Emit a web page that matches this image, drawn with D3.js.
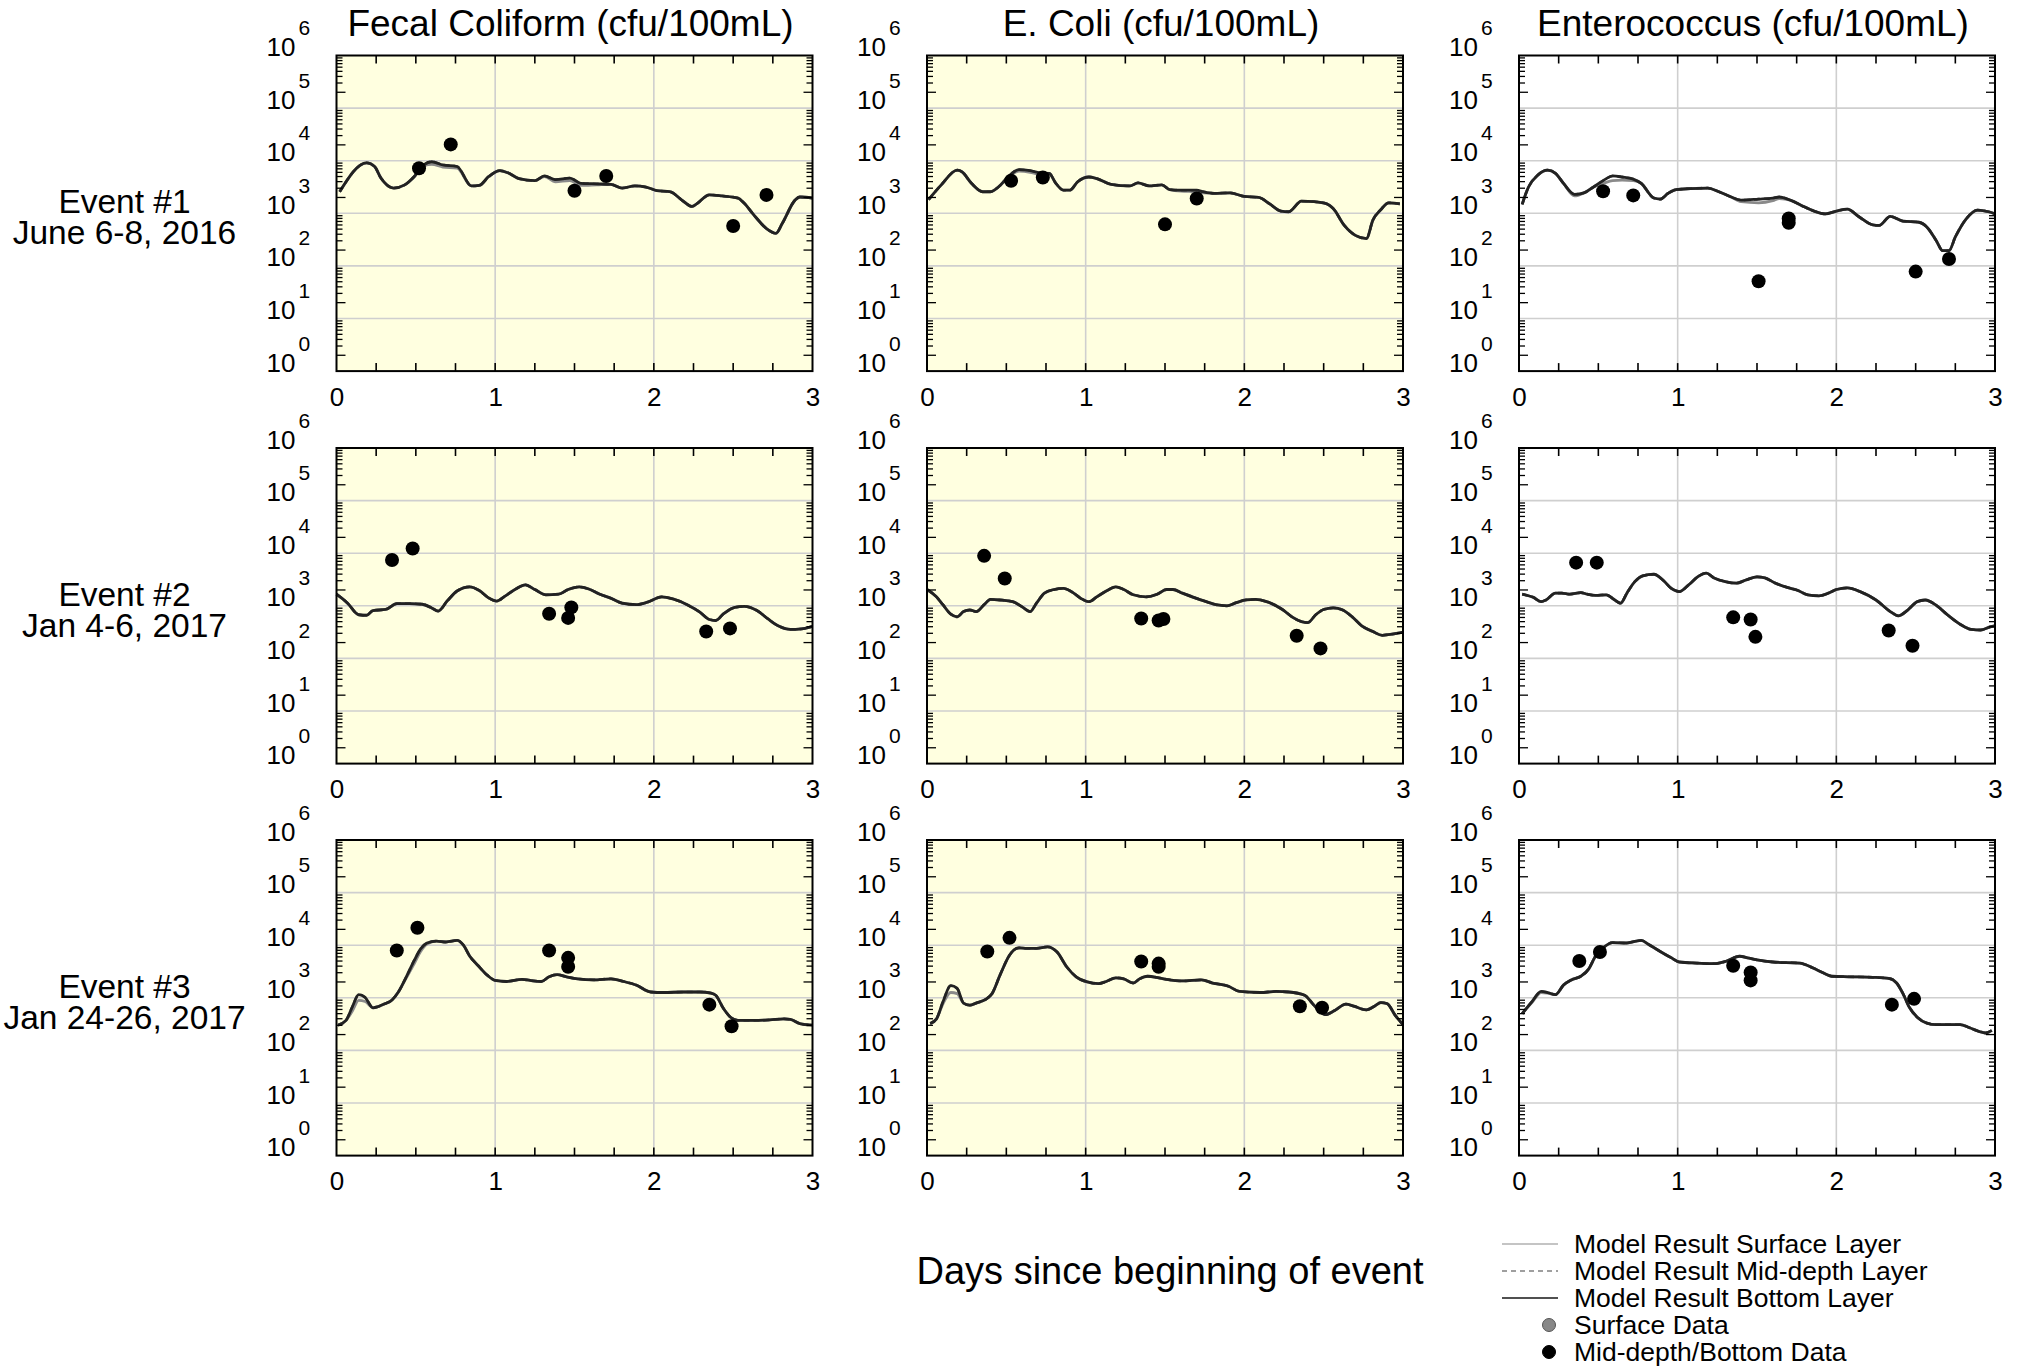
<!DOCTYPE html>
<html><head><meta charset="utf-8">
<script src="https://cdn.jsdelivr.net/npm/d3@7"></script>
<style>
html,body{margin:0;padding:0;background:#fff;}
svg{display:block;}
text{font-family:"Liberation Sans",Arial,Helvetica,sans-serif;fill:#000;}
</style>
</head><body>
<svg id="chart" width="2024" height="1368"></svg>
<script>
// ---------- labels ----------
const columnTitles = ["Fecal Coliform (cfu/100mL)", "E. Coli (cfu/100mL)", "Enterococcus (cfu/100mL)"];
const eventLabels = [["Event #1", "June 6-8, 2016"], ["Event #2", "Jan 4-6, 2017"], ["Event #3", "Jan 24-26, 2017"]];
const xTickLabels = [0, 1, 2, 3];
const xMinorTicks = [0.25, 0.5, 0.75, 1, 1.25, 1.5, 1.75, 2, 2.25, 2.5, 2.75];
const xGrid = [1, 2];
const yTickExponents = [0, 1, 2, 3, 4, 5, 6];
const yGrid = [10, 100, 1000, 10000, 100000];
const xAxisTitle = "Days since beginning of event";
const legendLabels = ["Model Result Surface Layer", "Model Result Mid-depth Layer", "Model Result Bottom Layer", "Surface Data", "Mid-depth/Bottom Data"];

// ---------- Event 1 ----------
const fecalE1Bottom = [[0.02,2570],[0.19,9120],[0.24,7760],[0.28,4680],[0.36,3020],[0.43,3470],[0.49,5010],[0.55,8320],[0.60,9550],[0.67,8320],[0.76,7760],[0.85,3310],[0.90,3390],[0.96,5010],[1.03,6460],[1.08,5890],[1.15,4570],[1.25,4170],[1.31,5130],[1.38,4370],[1.47,4680],[1.54,3720],[1.64,3630],[1.73,3550],[1.80,3020],[1.88,3310],[1.95,3160],[2.02,2690],[2.10,2570],[2.19,1660],[2.24,1350],[2.27,1510],[2.35,2240],[2.43,2140],[2.53,1950],[2.57,1550],[2.63,933],[2.71,513],[2.77,417],[2.81,646],[2.89,1780],[2.92,2040],[3.00,1950]];
const fecalE1Surface = [[0.02,2570],[0.19,9120],[0.24,7760],[0.28,4680],[0.36,3020],[0.43,3470],[0.49,4900],[0.55,7940],[0.60,8510],[0.67,7590],[0.76,7240],[0.85,3310],[0.90,3390],[0.96,5010],[1.03,6460],[1.08,5890],[1.15,4570],[1.25,4170],[1.31,5010],[1.38,3980],[1.47,4170],[1.54,3390],[1.64,3470],[1.73,3550],[1.80,3020],[1.88,3310],[1.95,3160],[2.02,2690],[2.10,2570],[2.19,1660],[2.24,1350],[2.27,1510],[2.35,2240],[2.43,2140],[2.53,1950],[2.57,1550],[2.63,933],[2.71,513],[2.77,417],[2.81,646],[2.89,1780],[2.92,2040],[3.00,1950]];
const fecalE1Data = [[0.52,7200],[0.72,20400],[1.50,2690],[1.70,5130],[2.50,575],[2.71,2240]];

const ecoliE1Bottom = [[0.01,1820],[0.09,3470],[0.19,6610],[0.22,6170],[0.28,3720],[0.35,2570],[0.40,2570],[0.45,3160],[0.51,4900],[0.58,6760],[0.65,6460],[0.71,5890],[0.77,5750],[0.81,3800],[0.86,2750],[0.90,2750],[0.95,3980],[1.02,4900],[1.07,4570],[1.16,3550],[1.28,3310],[1.33,3800],[1.40,3310],[1.48,3470],[1.53,2820],[1.60,2750],[1.70,2750],[1.74,2570],[1.81,2400],[1.91,2450],[2.00,2090],[2.09,2000],[2.16,1510],[2.23,1100],[2.28,1070],[2.36,1700],[2.44,1660],[2.52,1510],[2.56,1230],[2.63,589],[2.70,380],[2.77,331],[2.81,741],[2.86,1170],[2.91,1580],[2.98,1510]];
const ecoliE1Surface = [[0.01,1820],[0.09,3470],[0.19,6610],[0.22,6170],[0.28,3720],[0.35,2570],[0.40,2570],[0.45,3160],[0.51,4790],[0.58,6310],[0.65,6030],[0.71,5500],[0.77,5750],[0.81,3800],[0.86,2750],[0.90,2750],[0.95,3980],[1.02,4900],[1.07,4570],[1.16,3550],[1.28,3310],[1.33,3800],[1.40,3310],[1.48,3470],[1.53,2820],[1.60,2630],[1.70,2570],[1.74,2450],[1.81,2400],[1.91,2450],[2.00,2090],[2.09,2000],[2.16,1510],[2.23,1100],[2.28,1070],[2.36,1700],[2.44,1660],[2.52,1510],[2.56,1230],[2.63,589],[2.70,380],[2.77,331],[2.81,741],[2.86,1170],[2.91,1580],[2.98,1510]];
const ecoliE1Data = [[0.53,4170],[0.73,4790],[1.50,617],[1.70,1910]];

const enteroE1Bottom = [[0.02,1480],[0.06,3160],[0.12,5370],[0.18,6610],[0.23,5750],[0.28,3720],[0.35,2290],[0.41,2450],[0.47,3160],[0.54,4370],[0.59,5130],[0.65,4900],[0.72,4470],[0.77,3720],[0.85,1950],[0.89,1860],[0.94,2400],[0.99,2820],[1.08,2950],[1.19,3020],[1.26,2570],[1.33,2090],[1.40,1780],[1.51,1860],[1.60,1950],[1.64,2040],[1.71,1780],[1.78,1410],[1.86,1100],[1.93,977],[2.00,1100],[2.07,1200],[2.14,871],[2.23,603],[2.27,589],[2.34,871],[2.42,708],[2.52,676],[2.57,550],[2.63,302],[2.67,195],[2.71,195],[2.75,355],[2.82,794],[2.89,1150],[2.96,1070],[3.00,977]];
const enteroE1Surface = [[0.02,1480],[0.06,3160],[0.12,5370],[0.18,6610],[0.23,5750],[0.28,3720],[0.35,2140],[0.41,2450],[0.47,3160],[0.54,3800],[0.59,4170],[0.65,4270],[0.72,4170],[0.77,3720],[0.85,1950],[0.89,1860],[0.94,2400],[0.99,2820],[1.08,2950],[1.19,3020],[1.26,2570],[1.33,2090],[1.40,1660],[1.51,1580],[1.60,1740],[1.64,1910],[1.71,1780],[1.78,1410],[1.86,1100],[1.93,977],[2.00,1100],[2.07,1200],[2.14,871],[2.23,603],[2.27,589],[2.34,871],[2.42,708],[2.52,676],[2.57,550],[2.63,302],[2.67,195],[2.71,195],[2.75,355],[2.82,794],[2.89,1150],[2.96,1070],[3.00,977]];
const enteroE1Data = [[0.53,2630],[0.72,2190],[1.51,51],[1.70,794],[1.70,661],[2.50,78],[2.71,135]];

// ---------- Event 2 ----------
const fecalE2Model = [[0.00,1660],[0.07,1120],[0.14,676],[0.19,661],[0.23,813],[0.31,851],[0.38,1100],[0.46,1100],[0.54,1070],[0.60,912],[0.64,794],[0.70,1260],[0.76,1910],[0.84,2290],[0.90,1950],[0.96,1410],[1.01,1230],[1.06,1510],[1.13,2090],[1.19,2510],[1.25,2040],[1.32,1620],[1.40,1660],[1.46,2040],[1.53,2290],[1.59,2090],[1.66,1660],[1.74,1350],[1.80,1120],[1.89,1050],[1.96,1170],[2.05,1480],[2.12,1350],[2.21,1050],[2.29,759],[2.35,550],[2.39,525],[2.44,708],[2.51,933],[2.57,977],[2.65,813],[2.72,562],[2.79,407],[2.86,355],[2.93,363],[3.00,407]];
const fecalE2Data = [[0.35,7410],[0.48,12300],[1.34,708],[1.46,589],[1.48,933],[2.33,324],[2.48,372]];

const ecoliE2Model = [[0.00,2040],[0.06,1480],[0.10,1050],[0.15,692],[0.19,617],[0.23,776],[0.27,832],[0.31,776],[0.36,1050],[0.40,1320],[0.46,1290],[0.54,1200],[0.60,955],[0.65,776],[0.69,1120],[0.74,1740],[0.80,2040],[0.86,2140],[0.92,1780],[0.97,1380],[1.02,1200],[1.07,1480],[1.13,1910],[1.19,2290],[1.24,2040],[1.30,1620],[1.38,1480],[1.45,1660],[1.51,2040],[1.55,2040],[1.61,1740],[1.68,1450],[1.76,1200],[1.82,1050],[1.89,1000],[1.95,1150],[2.01,1290],[2.07,1320],[2.14,1200],[2.24,851],[2.30,617],[2.36,501],[2.40,479],[2.45,676],[2.50,851],[2.56,912],[2.62,832],[2.68,617],[2.74,417],[2.81,324],[2.87,275],[2.93,288],[3.00,316]];
const ecoliE2Data = [[0.36,8910],[0.49,3310],[1.35,575],[1.46,525],[1.49,562],[2.33,269],[2.48,155]];

const enteroE2Model = [[0.02,1660],[0.09,1450],[0.14,1200],[0.17,1290],[0.23,1740],[0.27,1740],[0.32,1660],[0.39,1780],[0.43,1660],[0.48,1580],[0.55,1620],[0.59,1380],[0.64,1120],[0.68,1740],[0.73,2880],[0.78,3720],[0.85,3980],[0.91,3020],[0.96,2140],[1.01,1860],[1.07,2510],[1.13,3630],[1.18,4170],[1.23,3390],[1.30,2880],[1.37,2690],[1.43,3090],[1.50,3550],[1.55,3390],[1.61,2750],[1.69,2240],[1.75,2000],[1.82,1620],[1.89,1550],[1.95,1740],[2.00,2040],[2.07,2190],[2.15,1860],[2.25,1290],[2.34,776],[2.39,646],[2.45,832],[2.51,1200],[2.56,1290],[2.63,1020],[2.70,676],[2.78,447],[2.85,355],[2.91,347],[2.97,398],[3.00,417]];
const enteroE2Data = [[0.36,6610],[0.49,6610],[1.35,603],[1.46,550],[1.49,257],[2.33,339],[2.48,174]];

// ---------- Event 3 ----------
const fecalE3Bottom = [[0.01,302],[0.06,372],[0.10,676],[0.14,1150],[0.18,1020],[0.23,646],[0.26,676],[0.30,759],[0.35,912],[0.39,1290],[0.44,2510],[0.49,5130],[0.53,8510],[0.57,11000],[0.63,12000],[0.69,11500],[0.76,12300],[0.80,10000],[0.84,6170],[0.89,4170],[0.95,2690],[1.00,2140],[1.07,2040],[1.17,2240],[1.22,2140],[1.29,2040],[1.34,2510],[1.39,2750],[1.45,2510],[1.52,2290],[1.62,2190],[1.73,2290],[1.81,2040],[1.89,1740],[1.98,1290],[2.06,1260],[2.19,1290],[2.29,1290],[2.36,1230],[2.39,1120],[2.44,617],[2.48,437],[2.53,372],[2.63,372],[2.73,380],[2.82,398],[2.86,389],[2.92,324],[3.00,302]];
const fecalE3Surface = [[0.01,302],[0.06,372],[0.10,562],[0.14,891],[0.18,851],[0.23,646],[0.26,676],[0.30,759],[0.35,912],[0.39,1290],[0.44,2400],[0.49,4470],[0.53,7590],[0.57,10500],[0.63,12000],[0.69,11500],[0.76,12300],[0.80,10000],[0.84,6170],[0.89,4170],[0.95,2690],[1.00,2140],[1.07,2040],[1.17,2240],[1.22,2140],[1.29,2040],[1.34,2510],[1.39,2750],[1.45,2510],[1.52,2290],[1.62,2190],[1.73,2290],[1.81,2040],[1.89,1740],[1.98,1290],[2.06,1260],[2.19,1290],[2.29,1290],[2.36,1230],[2.39,1120],[2.44,617],[2.48,437],[2.53,372],[2.63,372],[2.73,380],[2.82,398],[2.86,389],[2.92,324],[3.00,302]];
const fecalE3Data = [[0.38,7940],[0.51,21400],[1.34,7940],[1.46,5750],[1.46,3890],[2.35,741],[2.49,288]];

const ecoliE3Bottom = [[0.02,324],[0.06,398],[0.10,832],[0.15,1700],[0.19,1510],[0.23,794],[0.27,724],[0.31,794],[0.37,933],[0.41,1200],[0.46,2690],[0.52,6460],[0.58,8910],[0.63,8710],[0.69,8710],[0.76,9330],[0.82,7410],[0.88,3890],[0.94,2510],[1.01,2000],[1.08,1860],[1.13,2040],[1.19,2400],[1.24,2290],[1.30,1910],[1.34,2290],[1.39,2570],[1.46,2400],[1.51,2240],[1.61,2090],[1.73,2190],[1.80,1910],[1.90,1660],[1.97,1320],[2.10,1260],[2.20,1320],[2.28,1290],[2.38,1120],[2.43,776],[2.48,537],[2.51,479],[2.57,575],[2.64,759],[2.69,692],[2.77,589],[2.82,692],[2.86,813],[2.90,776],[2.95,468],[3.00,309]];
const ecoliE3Surface = [[0.02,324],[0.06,398],[0.10,760],[0.15,1260],[0.19,1200],[0.23,794],[0.27,724],[0.31,794],[0.37,933],[0.41,1200],[0.46,2690],[0.52,6460],[0.58,8910],[0.63,8710],[0.69,8710],[0.76,9330],[0.82,7410],[0.88,3890],[0.94,2510],[1.01,2000],[1.08,1860],[1.13,2040],[1.19,2400],[1.24,2290],[1.30,1910],[1.34,2290],[1.39,2570],[1.46,2400],[1.51,2240],[1.61,2090],[1.73,2190],[1.80,1910],[1.90,1660],[1.97,1320],[2.10,1260],[2.20,1320],[2.28,1290],[2.38,1120],[2.43,776],[2.48,537],[2.51,479],[2.57,575],[2.64,759],[2.69,692],[2.77,589],[2.82,692],[2.86,813],[2.90,776],[2.95,468],[3.00,309]];
const ecoliE3Data = [[0.38,7590],[0.52,13800],[1.35,4900],[1.46,4470],[1.46,3890],[2.35,692],[2.49,646]];

const enteroE3Bottom = [[0.02,501],[0.08,832],[0.14,1320],[0.18,1260],[0.23,1150],[0.28,1740],[0.33,2190],[0.39,2570],[0.44,3550],[0.48,6030],[0.53,8910],[0.59,11200],[0.68,11000],[0.74,12000],[0.77,12300],[0.82,10200],[0.89,7590],[0.96,5750],[1.01,4790],[1.12,4570],[1.24,4470],[1.31,5010],[1.39,6170],[1.44,5750],[1.50,5250],[1.60,4790],[1.77,4570],[1.85,3720],[1.92,2950],[1.97,2570],[2.08,2510],[2.23,2450],[2.33,2340],[2.38,1910],[2.42,1200],[2.46,661],[2.51,427],[2.57,331],[2.63,309],[2.70,309],[2.78,309],[2.84,269],[2.90,229],[2.94,214],[2.98,240]];
const enteroE3Surface = [[0.02,501],[0.08,800],[0.14,1260],[0.18,1230],[0.23,1150],[0.28,1740],[0.33,2190],[0.39,2570],[0.44,3550],[0.48,6030],[0.53,8910],[0.59,11200],[0.68,11000],[0.74,12000],[0.77,12300],[0.82,10200],[0.89,7590],[0.96,5750],[1.01,4790],[1.12,4570],[1.24,4470],[1.31,5010],[1.39,6170],[1.44,5750],[1.50,5250],[1.60,4790],[1.77,4570],[1.85,3720],[1.92,2950],[1.97,2570],[2.08,2510],[2.23,2450],[2.33,2340],[2.38,1910],[2.42,1200],[2.46,661],[2.51,427],[2.57,331],[2.63,309],[2.70,309],[2.78,309],[2.84,269],[2.90,229],[2.94,214],[2.98,240]];
const enteroE3Data = [[0.38,5010],[0.51,7410],[1.35,4070],[1.46,3020],[1.46,2140],[2.35,741],[2.49,955]];

// ---------- panel table built from the arrays ----------
const panels = [
  {row:0,col:0,surface:fecalE1Surface, mid:fecalE1Bottom, bottom:fecalE1Bottom, data:fecalE1Data},
  {row:0,col:1,surface:ecoliE1Surface, mid:ecoliE1Bottom, bottom:ecoliE1Bottom, data:ecoliE1Data},
  {row:0,col:2,surface:enteroE1Surface,mid:enteroE1Bottom,bottom:enteroE1Bottom,data:enteroE1Data},
  {row:1,col:0,surface:fecalE2Model, mid:fecalE2Model, bottom:fecalE2Model, data:fecalE2Data},
  {row:1,col:1,surface:ecoliE2Model, mid:ecoliE2Model, bottom:ecoliE2Model, data:ecoliE2Data},
  {row:1,col:2,surface:enteroE2Model,mid:enteroE2Model,bottom:enteroE2Model,data:enteroE2Data},
  {row:2,col:0,surface:fecalE3Surface, mid:fecalE3Bottom, bottom:fecalE3Bottom, data:fecalE3Data},
  {row:2,col:1,surface:ecoliE3Surface, mid:ecoliE3Bottom, bottom:ecoliE3Bottom, data:ecoliE3Data},
  {row:2,col:2,surface:enteroE3Surface,mid:enteroE3Bottom,bottom:enteroE3Bottom,data:enteroE3Data}
];

// ---------- layout ----------
const svg = d3.select("#chart");
const panelLeft = [336.5, 927, 1519];
const panelTop = [55.5, 448, 840];
const panelW = 476, panelH = 315.6;
const bgColors = ["#ffffe0", "#ffffe0", "#ffffff"];

// minor tick values for log axis
const yMinor = [];
for (let d = 0; d < 6; d++) for (let m = 2; m <= 9; m++) yMinor.push(m * Math.pow(10, d));

panels.forEach(p => {
  const x0 = panelLeft[p.col], y0 = panelTop[p.row];
  const x = d3.scaleLinear().domain([0, 3]).range([x0, x0 + panelW]);
  const y = d3.scaleLog().domain([1, 1e6]).range([y0 + panelH, y0]);
  const g = svg.append("g");

  g.append("rect").attr("x", x0).attr("y", y0).attr("width", panelW).attr("height", panelH)
    .attr("fill", bgColors[p.col]);

  // grid
  g.selectAll(null).data(yGrid).join("line")
    .attr("x1", x0).attr("x2", x0 + panelW).attr("y1", d => y(d)).attr("y2", d => y(d))
    .attr("stroke", "#cfcfcf").attr("stroke-width", 1.6);
  g.selectAll(null).data(xGrid).join("line")
    .attr("x1", d => x(d)).attr("x2", d => x(d)).attr("y1", y0).attr("y2", y0 + panelH)
    .attr("stroke", "#cfcfcf").attr("stroke-width", 1.6);

  // model lines
  const line = d3.line().x(d => x(d[0])).y(d => y(d[1])).curve(d3.curveMonotoneX);
  g.append("path").attr("d", line(p.surface)).attr("fill", "none").attr("stroke", "#8a8a8a").attr("stroke-width", 2.8);
  g.append("path").attr("d", line(p.mid)).attr("fill", "none").attr("stroke", "#555").attr("stroke-width", 2.6).attr("stroke-dasharray", "6,4");
  g.append("path").attr("d", line(p.bottom)).attr("fill", "none").attr("stroke", "#222").attr("stroke-width", 2.8);

  // data points
  g.selectAll(null).data(p.data).join("circle")
    .attr("cx", d => x(d[0])).attr("cy", d => y(d[1])).attr("r", 7).attr("fill", "#000");

  // x ticks (top & bottom, inward)
  g.selectAll(null).data(xMinorTicks).join("line")
    .attr("x1", d => x(d)).attr("x2", d => x(d)).attr("y1", y0 + panelH).attr("y2", y0 + panelH - 8)
    .attr("stroke", "#000").attr("stroke-width", 1.6);
  g.selectAll(null).data(xMinorTicks).join("line")
    .attr("x1", d => x(d)).attr("x2", d => x(d)).attr("y1", y0).attr("y2", y0 + 8)
    .attr("stroke", "#000").attr("stroke-width", 1.6);

  // y minor ticks (left & right, inward)
  const tl = d => (String(d)[0] === "2" ? 9 : 6);
  g.selectAll(null).data(yMinor).join("line")
    .attr("x1", x0).attr("x2", d => x0 + tl(d)).attr("y1", d => y(d)).attr("y2", d => y(d))
    .attr("stroke", "#000").attr("stroke-width", 1.3);
  g.selectAll(null).data(yMinor).join("line")
    .attr("x1", x0 + panelW).attr("x2", d => x0 + panelW - tl(d)).attr("y1", d => y(d)).attr("y2", d => y(d))
    .attr("stroke", "#000").attr("stroke-width", 1.3);

  // frame
  g.append("rect").attr("x", x0).attr("y", y0).attr("width", panelW).attr("height", panelH)
    .attr("fill", "none").attr("stroke", "#000").attr("stroke-width", 2);

  // x axis labels
  const xa = g.append("g").attr("transform", `translate(0,${y0 + panelH})`)
    .call(d3.axisBottom(x).tickValues(xTickLabels).tickSize(0).tickPadding(16).tickFormat(d3.format("d")));
  xa.select(".domain").remove();
  xa.selectAll("text").attr("font-size", 26);

  // y axis labels 10^n (one text element with a raised exponent)
  const ya = g.append("g").attr("transform", `translate(${x0},0)`)
    .call(d3.axisLeft(y).tickValues(yTickExponents.map(e => Math.pow(10, e))).tickSize(0).tickFormat(() => ""));
  ya.select(".domain").remove();
  ya.selectAll(".tick").each(function(d, i) {
    const t = d3.select(this);
    t.select("text").remove();
    const tx = t.append("text").attr("x", -70).attr("y", 0).attr("text-anchor", "start").attr("font-size", 26);
    tx.append("tspan").text("10");
    tx.append("tspan").attr("dx", 3).attr("dy", -21).attr("font-size", 21).text(yTickExponents[i]);
  });
});

// column titles
columnTitles.forEach((t, c) => {
  svg.append("text").attr("x", panelLeft[c] + panelW / 2 - 4).attr("y", 36)
    .attr("text-anchor", "middle").attr("font-size", 37).text(t);
});

// row labels (two lines in one text element)
eventLabels.forEach((lines, r) => {
  const cy = panelTop[r] + panelH / 2;
  const t = svg.append("text").attr("x", 124.5).attr("y", cy).attr("text-anchor", "middle").attr("font-size", 33.5);
  t.append("tspan").attr("x", 124.5).attr("y", cy).text(lines[0]);
  t.append("tspan").attr("x", 124.5).attr("y", cy + 31).text(lines[1]);
});

// x axis title
svg.append("text").attr("x", 1170).attr("y", 1284).attr("text-anchor", "middle").attr("font-size", 38).text(xAxisTitle);

// legend
const lg = svg.append("g");
const legBase = 1253, legStep = 27;
const lineStyles = [
  {stroke: "#b0b0b0", width: 1.6, dash: null},
  {stroke: "#808080", width: 1.6, dash: "5,4"},
  {stroke: "#505050", width: 2, dash: null}
];
legendLabels.forEach((lab, i) => {
  const by = legBase + i * legStep;
  const cy = by - 9;
  if (i < 3) {
    const s = lineStyles[i];
    const l = lg.append("line").attr("x1", 1502).attr("x2", 1558).attr("y1", cy).attr("y2", cy)
      .attr("stroke", s.stroke).attr("stroke-width", s.width);
    if (s.dash) l.attr("stroke-dasharray", s.dash);
  } else {
    lg.append("circle").attr("cx", 1549).attr("cy", cy).attr("r", 6.5)
      .attr("fill", i === 3 ? "#888" : "#000").attr("stroke", i === 3 ? "#555" : "#000").attr("stroke-width", 1);
  }
  lg.append("text").attr("x", 1574).attr("y", by).attr("font-size", 26.5).text(lab);
});
</script>
</body></html>
